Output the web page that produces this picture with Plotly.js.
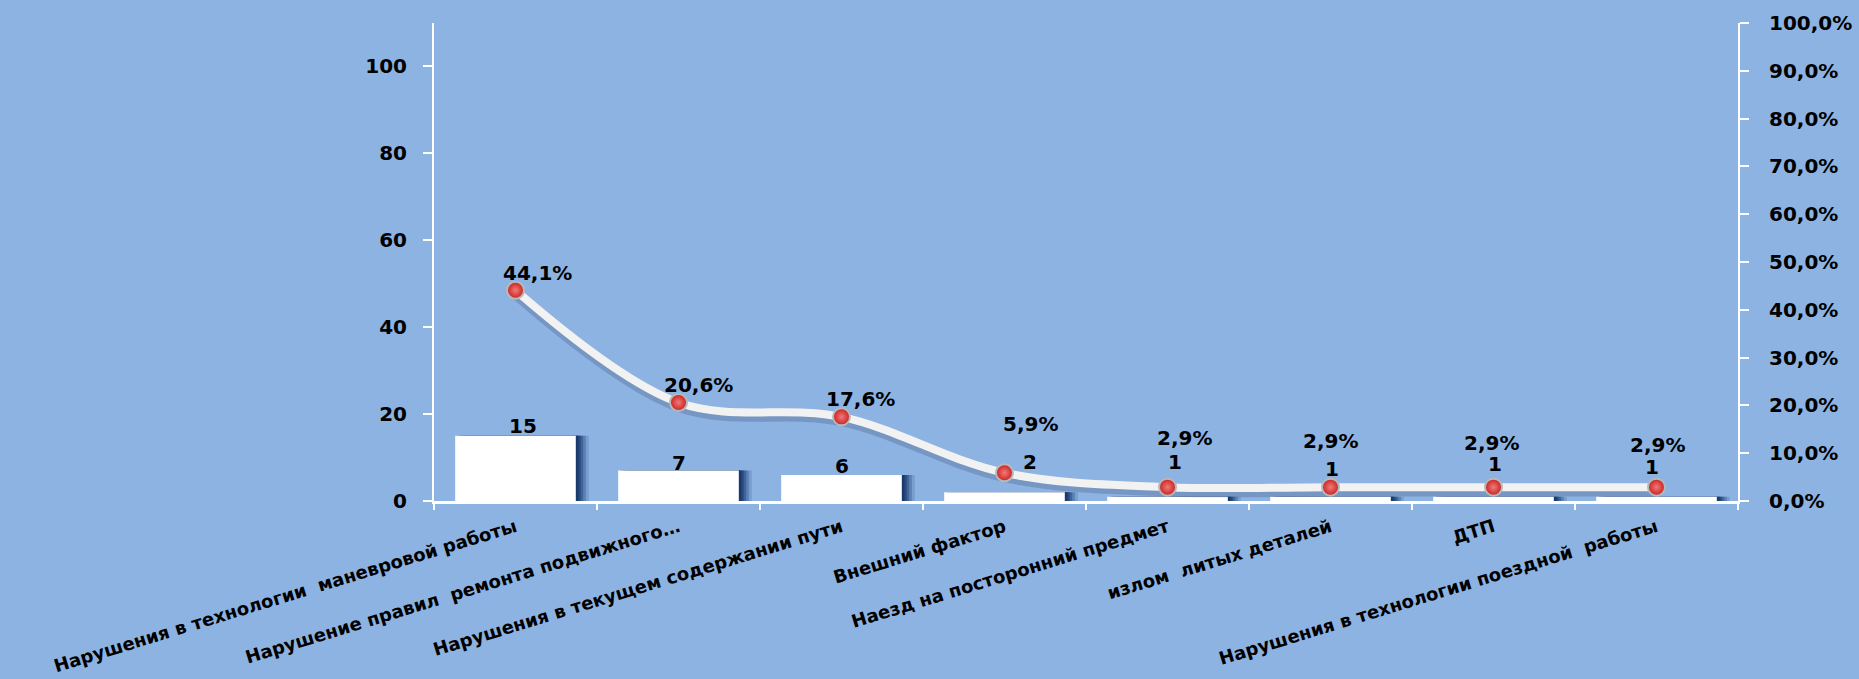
<!DOCTYPE html>
<html>
<head>
<meta charset="utf-8">
<script src="https://cdn.plot.ly/plotly-3.0.1.min.js"></script>
<style>
  html, body { margin: 0; padding: 0; background: #8db3e2; }
  #chart { width: 1859px; height: 679px; }
</style>
</head>
<body>
<div id="chart"></div>
<script>
// ---- data ----
const categories = [
  "Нарушения в технологии\u00a0 маневровой работы",
  "Нарушение правил\u00a0 ремонта подвижного…",
  "Нарушения в текущем содержании пути",
  "Внешний фактор",
  "Наезд на посторонний предмет",
  "излом\u00a0 литых деталей",
  "ДТП",
  "Нарушения в технологии поездной\u00a0 работы"
];
const counts = [15, 7, 6, 2, 1, 1, 1, 1];
const shares = [0.441, 0.206, 0.176, 0.059, 0.029, 0.029, 0.029, 0.029];
const shareLabels = ["44,1%", "20,6%", "17,6%", "5,9%", "2,9%", "2,9%", "2,9%", "2,9%"];
const countLabels = ["15", "7", "6", "2", "1", "1", "1", "1"];
const leftTickVals = [0, 20, 40, 60, 80, 100];
const rightTickVals = [0, 0.1, 0.2, 0.3, 0.4, 0.5, 0.6, 0.7, 0.8, 0.9, 1.0];

// ---- styling (label nudges in pixels, [x, y-up]) ----
const countShift = [[7, 10], [0, 8], [0, 9], [25, 30], [7, 35], [1, 28], [1, 33], [-5, 30]];
const shareShift = [[22, 17], [20, 18], [19, 18], [26, 49], [17, 49], [0, 46], [-2, 44], [1, 42]];

const FONT = "DejaVu Sans, Verdana, sans-serif";
const BG = "#8db3e2";
const BW = 0.74;

const shadowLayers = [
  [0.080, "rgba(30,65,120,0.18)"],
  [0.062, "rgba(30,65,120,0.30)"],
  [0.045, "rgba(30,65,120,0.45)"],
  [0.030, "rgba(28,60,112,0.65)"],
  [0.016, "rgba(25,55,105,0.85)"]
];

const traces = [];
shadowLayers.forEach(([off, col]) => {
  traces.push({ type: "bar", x: categories, y: counts, xaxis: "x", yaxis: "y",
    width: BW, offset: -BW / 2 + off, marker: { color: col, line: { width: 0 } },
    hoverinfo: "skip", showlegend: false });
});
traces.push({ type: "bar", x: categories, y: counts, xaxis: "x", yaxis: "y",
  width: BW, offset: -BW / 2, marker: { color: "#ffffff", line: { width: 0 } },
  showlegend: false });
// line shadow (drawn on a slightly shifted hidden axis so it sits just below the line)
traces.push({ type: "scatter", mode: "lines", x: categories, y: shares, xaxis: "x", yaxis: "y2",
  line: { shape: "spline", smoothing: 1, width: 9, color: "rgba(60,80,115,0.28)" },
  hoverinfo: "skip", showlegend: false });
// main line with markers
traces.push({ type: "scatter", mode: "lines+markers", x: categories, y: shares, xaxis: "x", yaxis: "y3",
  line: { shape: "spline", smoothing: 1, width: 8, color: "#f2f2f2" },
  marker: { size: 17, color: "#c8201f", line: { color: "#b8b8b8", width: 2 },
            gradient: { type: "radial", color: "#f07a78" } },
  showlegend: false });

const annotations = [];
categories.forEach((c, i) => {
  annotations.push({
    x: c, y: counts[i], xref: "x", yref: "y", text: countLabels[i], showarrow: false,
    xanchor: "center", yanchor: "middle", xshift: countShift[i][0], yshift: countShift[i][1],
    font: { family: FONT, size: 20, color: "#000", weight: "bold" }
  });
  annotations.push({
    x: c, y: shares[i], xref: "x", yref: "y3", text: shareLabels[i], showarrow: false,
    xanchor: "center", yanchor: "middle", xshift: shareShift[i][0], yshift: shareShift[i][1],
    font: { family: FONT, size: 20, color: "#000", weight: "bold" }
  });
});

const axisCommon = {
  showline: true, linecolor: "#ffffff", linewidth: 2,
  ticks: "outside", tickcolor: "#ffffff", tickwidth: 2, ticklen: 9,
  showgrid: false, zeroline: false, fixedrange: true,
  tickfont: { family: FONT, size: 20, color: "#000", weight: "bold" }
};

const layout = {
  width: 1859, height: 679,
  paper_bgcolor: BG, plot_bgcolor: BG,
  margin: { l: 434, r: 121, t: 23, b: 178 },
  separators: ", ",
  barmode: "overlay",
  showlegend: false,
  xaxis: {
    type: "category", range: [-0.5, 7.5], showline: true, linecolor: "#ffffff", linewidth: 3,
    ticks: "outside", tickson: "boundaries", tickcolor: "#ffffff", tickwidth: 2, ticklen: 6,
    tickangle: -17, ticklabelstandoff: 6, showgrid: false, zeroline: false, fixedrange: true,
    tickfont: { family: FONT, size: 18, color: "#000", weight: "bold" },
    automargin: false
  },
  yaxis: Object.assign({}, axisCommon, {
    range: [0, 110], tickvals: leftTickVals, ticktext: leftTickVals.map(String),
    ticklabelstandoff: 12, automargin: false
  }),
  yaxis2: { overlaying: "y", range: [0.010, 1.010], visible: false, fixedrange: true },
  yaxis3: Object.assign({}, axisCommon, {
    overlaying: "y", side: "right", anchor: "x", range: [0, 1],
    tickvals: rightTickVals, tickformat: ".1%", ticklabelstandoff: 16, automargin: false
  }),
  annotations: annotations
};

Plotly.newPlot("chart", traces, layout, { displayModeBar: false, staticPlot: true });
</script>
</body>
</html>
